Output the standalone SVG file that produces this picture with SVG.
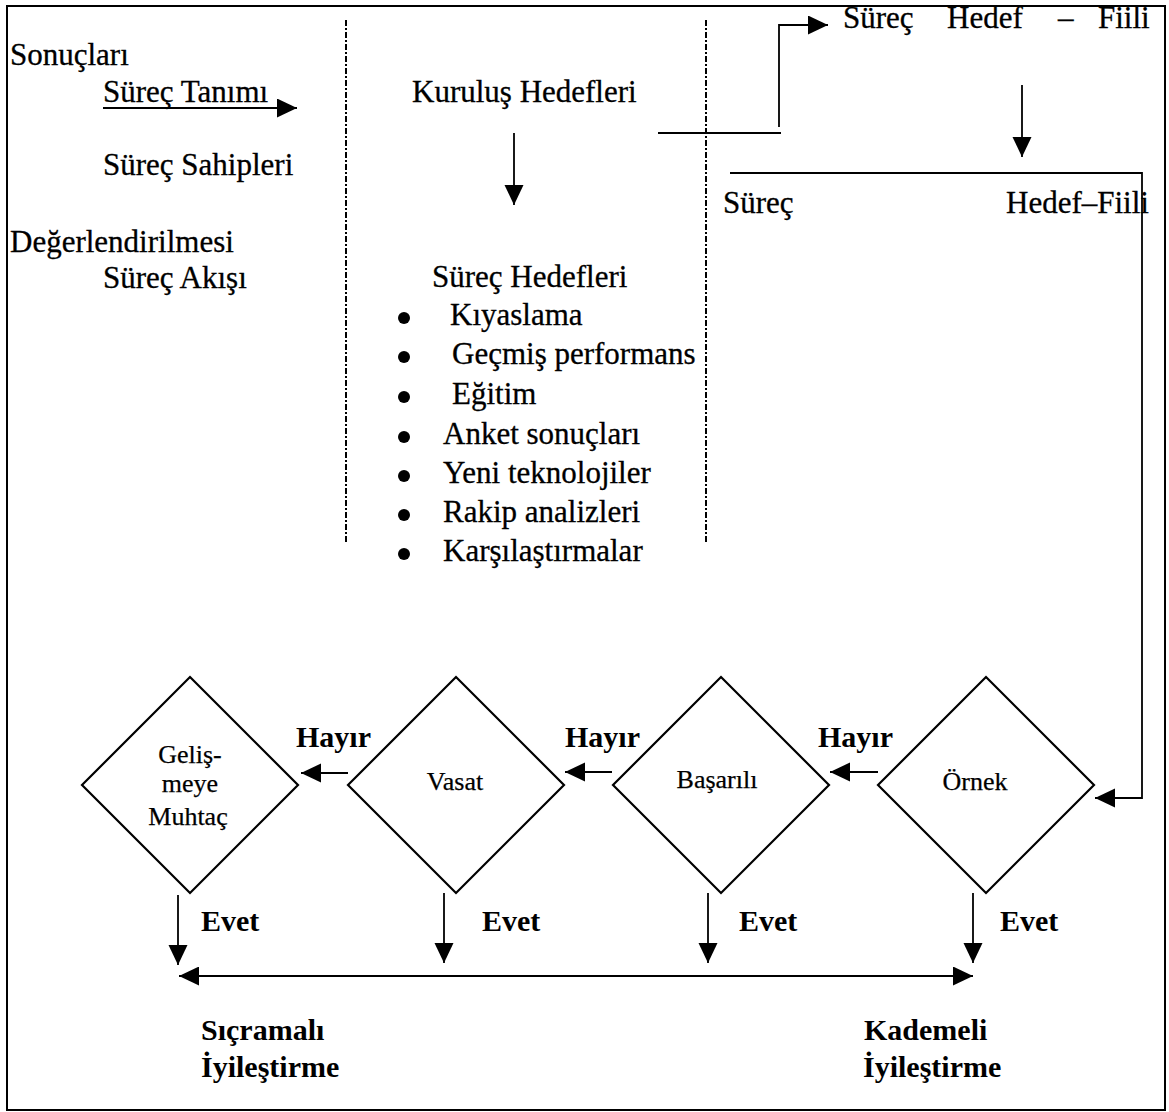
<svg xmlns="http://www.w3.org/2000/svg" width="1169" height="1112" viewBox="0 0 1169 1112">
  <style>
    .t { font-family: "Liberation Serif", "Times New Roman", serif; font-size: 31px; fill: #000; stroke: #000; stroke-width: 0.3; }
    .s { font-family: "Liberation Serif", "Times New Roman", serif; font-size: 26px; fill: #000; stroke: #000; stroke-width: 0.25; }
    .b { font-family: "Liberation Serif", "Times New Roman", serif; font-size: 30px; font-weight: bold; fill: #000; }
    .ln { fill: none; stroke: #000; stroke-width: 2; }
    .ar { fill: none; stroke: #000; stroke-width: 1.8; marker-end: url(#head); }
    .dash { fill: none; stroke: #000; stroke-width: 2; stroke-dasharray: 6 2 2 2; }
    .dm { fill: #fff; stroke: #000; stroke-width: 2.2; stroke-linejoin: miter; }
    .dot { fill: #000; }
  </style>
  <defs>
    <marker id="head" markerUnits="userSpaceOnUse" markerWidth="21" markerHeight="20" refX="20" refY="9.5" orient="auto">
      <path d="M0,0 L20,9.5 L0,19 Z" fill="#000"/>
    </marker>
    <marker id="tail" markerUnits="userSpaceOnUse" markerWidth="21" markerHeight="20" refX="0" refY="9.5" orient="auto">
      <path d="M20,0 L0,9.5 L20,19 Z" fill="#000"/>
    </marker>
  </defs>

  <rect x="0" y="0" width="1169" height="1112" fill="#fff"/>
  <!-- outer frame -->
  <rect x="7" y="6" width="1158" height="1104" class="ln"/>

  <!-- column separators -->
  <line x1="346" y1="20" x2="346" y2="543" class="dash"/>
  <line x1="706" y1="20" x2="706" y2="543" class="dash"/>

  <!-- left column -->
  <g id="n-sonuclari"><text x="10" y="65" class="t">Sonuçları</text></g>
  <g id="n-surec-tanimi"><text x="103" y="102" class="t">Süreç Tanımı</text></g>
  <g id="n-surec-sahipleri"><text x="103" y="175" class="t">Süreç Sahipleri</text></g>
  <g id="n-degerlendirilmesi"><text x="10" y="252" class="t">Değerlendirilmesi</text></g>
  <g id="n-surec-akisi"><text x="103" y="288" class="t">Süreç Akışı</text></g>

  <!-- middle column -->
  <g id="n-kurulus-hedefleri"><text x="412" y="102" class="t">Kuruluş Hedefleri</text></g>
  <g id="n-surec-hedefleri">
    <text x="432" y="287" class="t">Süreç Hedefleri</text>
    <circle cx="404" cy="318" r="6" class="dot"/><text x="450" y="325" class="t">Kıyaslama</text>
    <circle cx="404" cy="357" r="6" class="dot"/><text x="452" y="364" class="t">Geçmiş performans</text>
    <circle cx="404" cy="397" r="6" class="dot"/><text x="452" y="404" class="t">Eğitim</text>
    <circle cx="404" cy="437" r="6" class="dot"/><text x="443" y="444" class="t">Anket sonuçları</text>
    <circle cx="404" cy="476" r="6" class="dot"/><text x="443" y="483" class="t">Yeni teknolojiler</text>
    <circle cx="404" cy="515" r="6" class="dot"/><text x="443" y="522" class="t">Rakip analizleri</text>
    <circle cx="404" cy="554" r="6" class="dot"/><text x="443" y="561" class="t">Karşılaştırmalar</text>
  </g>

  <!-- right column -->
  <g id="n-hedef-fiili-top">
    <text x="843" y="28" class="t">Süreç</text>
    <text x="947" y="28" class="t">Hedef</text>
    <text x="1058" y="28" class="t">–</text>
    <text x="1098" y="28" class="t">Fiili</text>
  </g>
  <g id="n-hedef-fiili">
    <text x="723" y="213" class="t">Süreç</text>
    <text x="1006" y="213" class="t">Hedef–Fiili</text>
  </g>

  <!-- rating diamonds -->
  <g id="n-gelismeye-muhtac">
    <polygon points="190,677 298,785 190,893 82,785" class="dm"/>
    <text x="190" y="763" class="s" text-anchor="middle">Geliş-</text>
    <text x="190" y="792" class="s" text-anchor="middle">meye</text>
    <text x="188" y="825" class="s" text-anchor="middle">Muhtaç</text>
  </g>
  <g id="n-vasat">
    <polygon points="456,677 564,785 456,893 348,785" class="dm"/>
    <text x="455" y="790" class="s" text-anchor="middle">Vasat</text>
  </g>
  <g id="n-basarili">
    <polygon points="721,677 829,785 721,893 613,785" class="dm"/>
    <text x="717" y="788" class="s" text-anchor="middle">Başarılı</text>
  </g>
  <g id="n-ornek">
    <polygon points="986,677 1094,785 986,893 878,785" class="dm"/>
    <text x="975" y="790" class="s" text-anchor="middle">Örnek</text>
  </g>

  <!-- outcome labels -->
  <g id="n-sicramali">
    <text x="201" y="1040" class="b">Sıçramalı</text>
    <text x="201" y="1077" class="b">İyileştirme</text>
  </g>
  <g id="n-kademeli">
    <text x="864" y="1040" class="b">Kademeli</text>
    <text x="863" y="1077" class="b">İyileştirme</text>
  </g>

  <!-- connectors -->
  <g id="connectors">
    <line x1="103" y1="108" x2="297" y2="108" class="ar"/>
    <line x1="514" y1="133" x2="514" y2="205" class="ar"/>
    <line x1="658" y1="133" x2="781" y2="133" class="ln"/>
    <polyline points="779,127 779,25 828,25" class="ar"/>
    <line x1="1022" y1="85" x2="1022" y2="157" class="ar"/>
    <polyline points="730,173 1142,173 1142,798 1095,798" class="ar"/>

    <!-- "no" branches -->
    <line x1="878" y1="772" x2="830" y2="772" class="ar"/>
    <text x="818" y="747" class="b">Hayır</text>
    <line x1="612" y1="772" x2="565" y2="772" class="ar"/>
    <text x="565" y="747" class="b">Hayır</text>
    <line x1="348" y1="773" x2="301" y2="773" class="ar"/>
    <text x="296" y="747" class="b">Hayır</text>

    <!-- "yes" branches -->
    <line x1="178" y1="895" x2="178" y2="965" class="ar"/>
    <text x="201" y="931" class="b">Evet</text>
    <line x1="444" y1="893" x2="444" y2="963" class="ar"/>
    <text x="482" y="931" class="b">Evet</text>
    <line x1="708" y1="893" x2="708" y2="963" class="ar"/>
    <text x="739" y="931" class="b">Evet</text>
    <line x1="973" y1="893" x2="973" y2="963" class="ar"/>
    <text x="1000" y="931" class="b">Evet</text>

    <!-- improvement scale -->
    <line x1="179" y1="976" x2="973" y2="976" class="ar" marker-start="url(#tail)"/>
  </g>
</svg>
